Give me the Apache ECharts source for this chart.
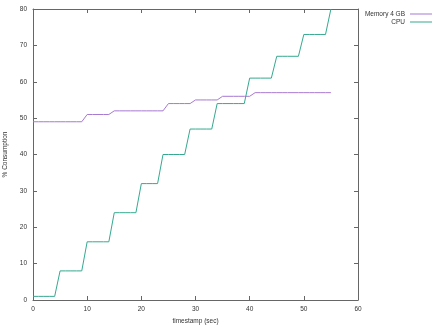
<!DOCTYPE html>
<html>
<head>
<meta charset="utf-8">
<script src="https://cdn.jsdelivr.net/npm/echarts@6/dist/echarts.min.js"></script>
<style>
  html, body { margin: 0; padding: 0; background: #fff; }
  #chart { width: 435px; height: 328px; }
</style>
</head>
<body>
<div id="chart"></div>
<script>
// one sample per second
const timestamps = [
  0, 1, 2, 3, 4, 5, 6, 7, 8, 9, 10, 11, 12, 13, 14, 15, 16, 17, 18, 19,
  20, 21, 22, 23, 24, 25, 26, 27, 28, 29, 30, 31, 32, 33, 34, 35, 36, 37, 38, 39,
  40, 41, 42, 43, 44, 45, 46, 47, 48, 49, 50, 51, 52, 53, 54, 55
]
const memory4gb = [
  49, 49, 49, 49, 49, 49, 49, 49, 49, 49, 51, 51, 51, 51, 51, 52, 52, 52, 52, 52,
  52, 52, 52, 52, 52, 54, 54, 54, 54, 54, 55, 55, 55, 55, 55, 56, 56, 56, 56, 56,
  56, 57, 57, 57, 57, 57, 57, 57, 57, 57, 57, 57, 57, 57, 57, 57
]
const cpu = [
  1, 1, 1, 1, 1, 8, 8, 8, 8, 8, 16, 16, 16, 16, 16, 24, 24, 24, 24, 24,
  32, 32, 32, 32, 40, 40, 40, 40, 40, 47, 47, 47, 47, 47, 54, 54, 54, 54, 54, 54,
  61, 61, 61, 61, 61, 67, 67, 67, 67, 67, 73, 73, 73, 73, 73, 80
]

const chart = echarts.init(document.getElementById('chart'))
const txt = '#333'
const border = '#666'
const font = 'Liberation Sans'
const fs = 6.5

function pairs(vals) {
  return timestamps.map((t, i) => [t, vals[i]])
}

// shared look for the boxed gnuplot-style axes
function xAx(pos, show) {
  return {
    type: 'value', position: pos, min: 0, max: 60, interval: 10,
    axisLine: { show: true, onZero: false, lineStyle: { color: border, width: 1 } },
    axisTick: { show: true, inside: true, length: 4, lineStyle: { color: border } },
    axisLabel: { show: show, color: txt, fontSize: fs, fontFamily: font, margin: 6 },
    splitLine: { show: false },
  }
}
function yAx(pos, show) {
  return {
    type: 'value', position: pos, min: 0, max: 80, interval: 10,
    axisLine: { show: true, onZero: false, lineStyle: { color: border, width: 1 } },
    axisTick: { show: true, inside: true, length: 4, lineStyle: { color: border } },
    axisLabel: { show: show, color: txt, fontSize: fs, fontFamily: font, margin: 6 },
    splitLine: { show: false },
  }
}

chart.setOption({
  animation: false,
  backgroundColor: '#fff',
  grid: { left: 33, right: 77, top: 9, bottom: 28, containLabel: false, outerBoundsMode: 'none' },
  legend: {
    orient: 'vertical', right: 3, top: 10, align: 'right', padding: 0,
    itemWidth: 22, itemHeight: 1, itemGap: 0,
    textStyle: { color: txt, fontSize: fs, fontFamily: font, lineHeight: 8 },
    data: [
      { name: 'Memory 4 GB', icon: 'rect' },
      { name: 'CPU', icon: 'rect' },
    ],
  },
  xAxis: [
    { ...xAx('bottom', true), name: 'timestamp (sec)', nameLocation: 'middle', nameGap: 17,
      nameTextStyle: { color: txt, fontSize: fs, fontFamily: font } },
    xAx('top', false),
  ],
  yAxis: [
    { ...yAx('left', true), name: '% Consumption', nameLocation: 'middle', nameGap: 17, nameRotate: 90,
      nameTextStyle: { color: txt, fontSize: fs, fontFamily: font } },
    yAx('right', false),
  ],
  series: [
    { name: 'Memory 4 GB', type: 'line', data: pairs(memory4gb), symbol: 'none',
      color: '#a779d2', lineStyle: { color: '#a779d2', width: 1 } },
    { name: 'CPU', type: 'line', data: pairs(cpu), symbol: 'none',
      color: '#35a98f', lineStyle: { color: '#35a98f', width: 1 } },
  ],
})
</script>
</body>
</html>
